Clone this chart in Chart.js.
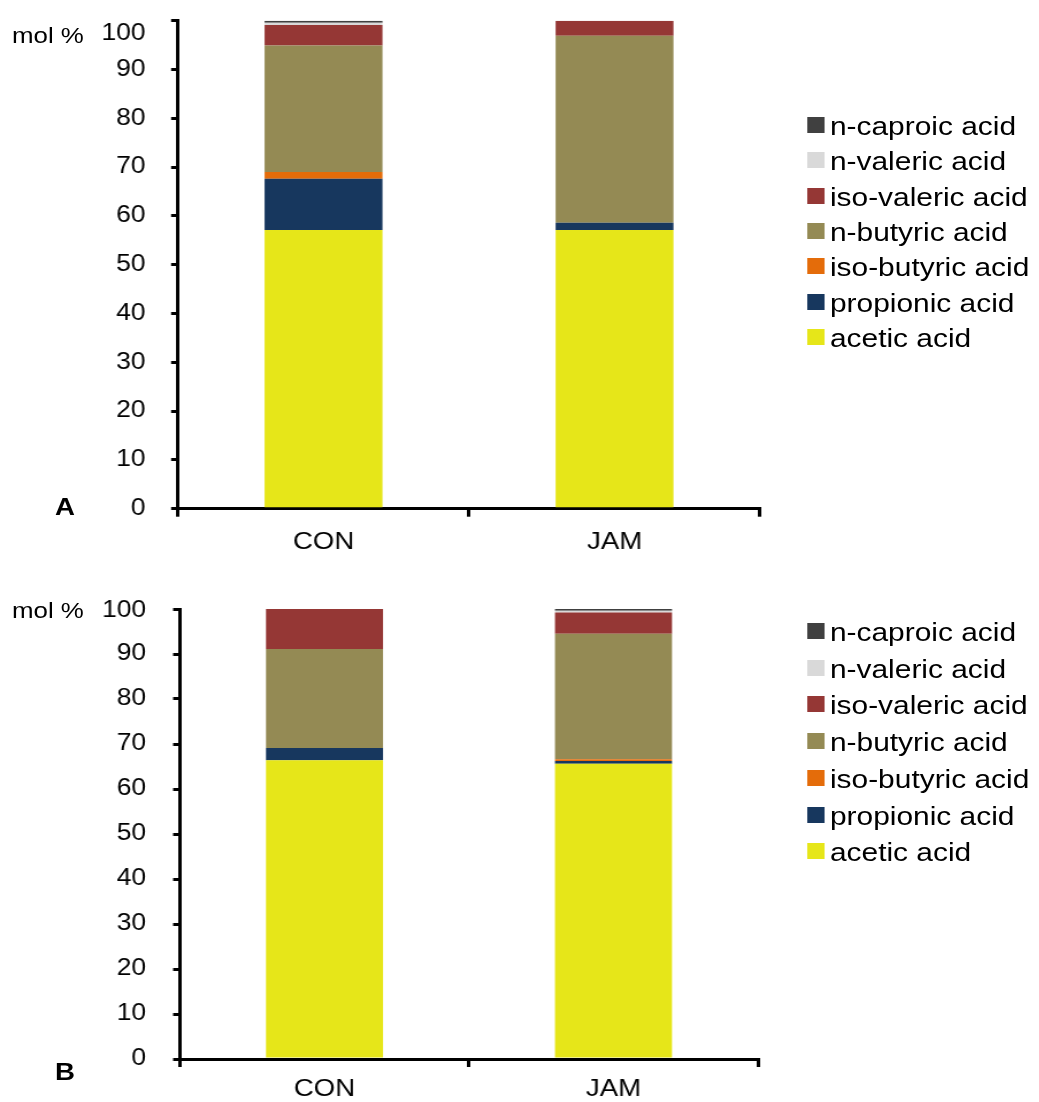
<!DOCTYPE html>
<html>
<head>
<meta charset="utf-8">
<script src="https://cdn.jsdelivr.net/npm/chart.js@4.4.1/dist/chart.umd.min.js"></script>
<style>
  html, body { margin: 0; padding: 0; background: #fff; }
  body { width: 1039px; height: 1102px; overflow: hidden; position: relative; }
  /* the whole figure uses a slightly wide type face; stretch horizontally */
  #figure { position: absolute; left: 0; top: 0; width: 904px; height: 1102px;
            transform: scaleX(1.15); transform-origin: 0 0;
            font-family: "Liberation Sans", Arial, sans-serif; color: #000; }
  canvas { position: absolute; left: 0; }
  .txt { position: absolute; white-space: nowrap; line-height: 30px; height: 30px; }
  .swatch { position: absolute; width: 15px; height: 16px; }
</style>
</head>
<body>
<div id="figure">
  <canvas id="chartA" width="700" height="560" style="top:0px"></canvas>
  <canvas id="chartB" width="700" height="522" style="top:580px"></canvas>
</div>
<script>
// groups on the x axis
const categories = ['CON', 'JAM'];

// fatty acids, bottom of stack first
const seriesNames = ['acetic acid', 'propionic acid', 'iso-butyric acid', 'n-butyric acid',
                     'iso-valeric acid', 'n-valeric acid', 'n-caproic acid'];
const seriesColors = ['#E6E619', '#17375E', '#E46C0A', '#948A54', '#953735', '#D9D9D9', '#404040'];

// panel A, mol % per group [CON, JAM]
const aAcetic     = [57.1, 57.1];
const aPropionic  = [10.5, 1.5];
const aIsoButyric = [1.4, 0.0];
const aButyric    = [25.9, 38.3];
const aIsoValeric = [4.2, 3.1];
const aValeric    = [0.5, 0.0];
const aCaproic    = [0.4, 0.0];

// panel B, mol % per group [CON, JAM]
const bAcetic     = [66.4, 65.6];
const bPropionic  = [2.7, 0.6];
const bIsoButyric = [0.0, 0.4];
const bButyric    = [22.0, 27.9];
const bIsoValeric = [8.9, 4.7];
const bValeric    = [0.0, 0.4];
const bCaproic    = [0.0, 0.4];

// y axis range and step
const yMin = 0, yMax = 100, yStep = 10;
const yAxisTitle = 'mol %';
const panelLabels = ['A', 'B'];

const FONT = '"Liberation Sans", Arial, sans-serif';
Chart.defaults.font.family = FONT;
Chart.defaults.color = '#000';

// nudges the label of the top y tick down (it sits beside the axis title)
const topLabelNudge = {
  id: 'topLabelNudge',
  beforeDraw(chart, args, opts) {
    if (!opts.dy) return;
    const items = chart.scales.y.getLabelItems();
    const top = items[items.length - 1];
    if (top && !top._nudged) {
      top.options.translation[1] += opts.dy;
      top._nudged = true;
    }
  }
};

function makeChart(canvasId, seriesValues, g) {
  const datasets = seriesNames.map((name, i) => ({
    label: name,
    data: seriesValues[i],
    backgroundColor: seriesColors[i],
    borderWidth: 0,
    barPercentage: 0.405,
    categoryPercentage: 1.0
  }));
  return new Chart(document.getElementById(canvasId), {
    type: 'bar',
    data: { labels: categories, datasets },
    plugins: [topLabelNudge],
    options: {
      responsive: false,
      animation: false,
      layout: { padding: { left: 0, top: g.top, right: g.right, bottom: 0 } },
      plugins: {
        legend: { display: false },
        tooltip: { enabled: false },
        topLabelNudge: { dy: g.topLabelDy }
      },
      scales: {
        x: {
          stacked: true,
          grid: { drawOnChartArea: false, drawTicks: true, tickLength: 8, color: '#000', lineWidth: 3, offset: true },
          border: { color: '#000', width: 3 },
          ticks: { font: { size: 24 }, padding: g.xPad, color: '#000' },
          afterFit: s => { s.height = g.xHeight; }
        },
        y: {
          stacked: true,
          min: yMin, max: yMax,
          grid: { drawOnChartArea: false, drawTicks: true, tickLength: 6, color: '#000', lineWidth: 3 },
          border: { color: '#000', width: 3 },
          ticks: { stepSize: yStep, font: { size: 23 }, padding: g.yPad, color: '#000' },
          afterFit: s => {
            s.width = g.yWidth;
            // plot top/bottom come from the layout padding alone
            s.paddingTop = 0;
            s.paddingBottom = 0;
          }
        }
      }
    }
  });
}

makeChart('chartA',
  [aAcetic, aPropionic, aIsoButyric, aButyric, aIsoValeric, aValeric, aCaproic],
  { top: 20.7, right: 39.1, xHeight: 51.3, yWidth: 154.8, xPad: 11, yPad: 22.3, topLabelDy: 13 });

makeChart('chartB',
  [bAcetic, bPropionic, bIsoButyric, bButyric, bIsoValeric, bValeric, bCaproic],
  { top: 29, right: 40.9, xHeight: 43, yWidth: 156.5, xPad: 8, yPad: 23.5, topLabelDy: 2 });

// axis titles, panel letters and legends
const fig = document.getElementById('figure');
function addText(text, left, centerY, size, weight) {
  const d = document.createElement('div');
  d.className = 'txt';
  d.textContent = text;
  d.style.left = left + 'px';
  d.style.top = (centerY - 15) + 'px';
  d.style.fontSize = size + 'px';
  if (weight) d.style.fontWeight = weight;
  fig.appendChild(d);
}
function addLegend(firstRowY, rowGap) {
  // top row is the last series in the stack
  for (let k = 0; k < seriesNames.length; k++) {
    const i = seriesNames.length - 1 - k;
    const cy = firstRowY + k * rowGap;
    const sw = document.createElement('div');
    sw.className = 'swatch';
    sw.style.left = '701.7px';
    sw.style.top = (cy - 8) + 'px';
    sw.style.background = seriesColors[i];
    fig.appendChild(sw);
    addText(seriesNames[i], 721.7, cy + 1, 26);
  }
}

addText(yAxisTitle, 10.4, 36, 22.5);
addText(yAxisTitle, 10.4, 611, 22.5);
addText(panelLabels[0], 47.8, 507, 24, 'bold');
addText(panelLabels[1], 47.8, 1072, 24, 'bold');
addLegend(125, 35.3);
addLegend(631, 36.7);
</script>
</body>
</html>
